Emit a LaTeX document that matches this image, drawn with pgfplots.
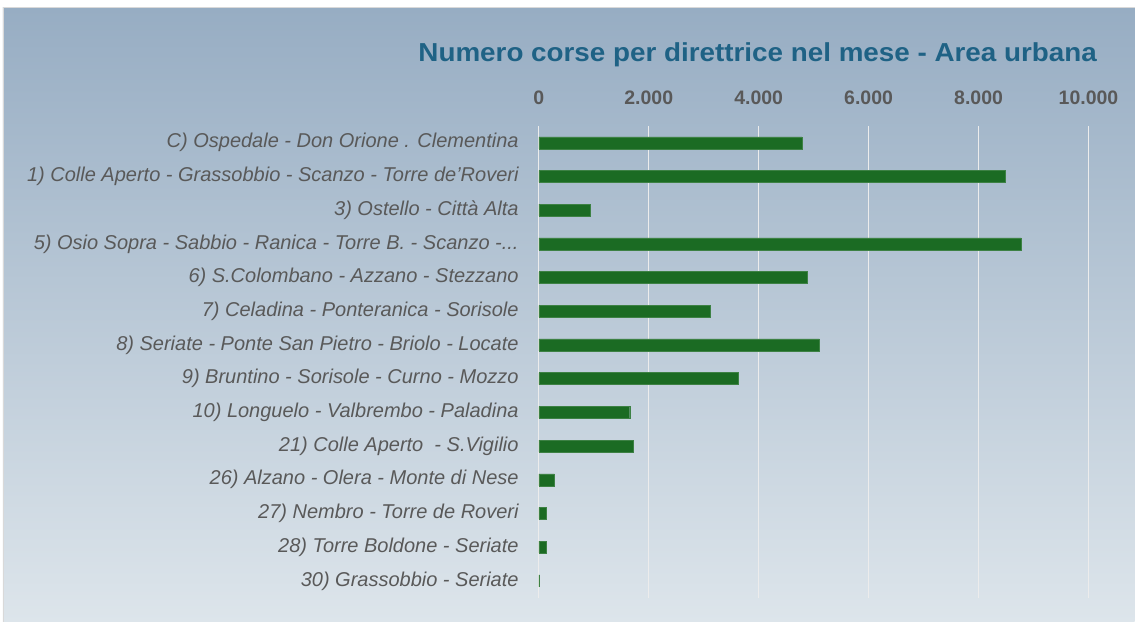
\documentclass[border=0pt]{standalone}
\usepackage{pgfplots}
\pgfplotsset{compat=1.18}
\usepackage{fontspec}
\setmainfont{Liberation Sans}
\newfontfamily\widefont[FakeStretch=1.07]{Liberation Sans}
\newcommand\tdots{...}
\definecolor{bgtop}{HTML}{97ADC3}
\definecolor{bgbot}{HTML}{DDE5EB}
\definecolor{titlecol}{HTML}{1F6285}
\definecolor{labelcol}{HTML}{595959}
\definecolor{barcol}{HTML}{1B6B23}
\begin{document}
\begin{tikzpicture}
\fill[white] (0pt,0pt) rectangle (1135pt,622pt);
\shade[top color=bgtop, bottom color=bgbot] (3pt,0pt) rectangle (1135pt,614pt);
\draw[black!15, line width=1pt] (3.5pt,0pt) -- (3.5pt,614.5pt) -- (1135pt,614.5pt);
\node[anchor=center, text=titlecol, font=\widefont\bfseries\fontsize{26}{26}\selectfont] at (758pt,567pt) {Numero corse per direttrice nel mese - Area urbana};
\begin{axis}[
  at={(539pt,24pt)}, anchor=south west,
  width=550pt, height=472pt, scale only axis,
  xmin=0, xmax=10000, ymin=-0.5, ymax=13.5,
  y dir=reverse,
  axis line style={draw=none},
  major tick length=0pt,
  xtick={0,2000,4000,6000,8000,10000},
  scaled x ticks=false,
  xticklabel pos=upper,
  xmajorgrids,
  grid style={white!85!gray, line width=1.2pt},
  /pgf/number format/.cd, 1000 sep={.}, assume math mode=true,
  /pgfplots/.cd,
  xticklabel style={anchor=center, yshift=28pt, text=labelcol, font=\bfseries\fontsize{19.5}{19.5}\selectfont},
  ytick={0,1,2,3,4,5,6,7,8,9,10,11,12,13},
  yticklabels={
    {C) Ospedale - Don Orione . Clementina},
    {1) Colle Aperto - Grassobbio - Scanzo - Torre de'Roveri},
    {3) Ostello - Città Alta},
    {5) Osio Sopra - Sabbio - Ranica - Torre B. - Scanzo -\tdots},
    {6) S.Colombano - Azzano - Stezzano},
    {7) Celadina - Ponteranica - Sorisole},
    {8) Seriate - Ponte San Pietro - Briolo - Locate},
    {9) Bruntino - Sorisole - Curno - Mozzo},
    {10) Longuelo - Valbrembo - Paladina},
    {21) Colle Aperto\ \ - S.Vigilio},
    {26) Alzano - Olera - Monte di Nese},
    {27) Nembro - Torre de Roveri},
    {28) Torre Boldone - Seriate},
    {30) Grassobbio - Seriate}},
  yticklabel style={anchor=east, inner sep=0pt, xshift=-20pt, text=labelcol, font=\itshape\fontsize{20}{20}\selectfont},
  clip=false
]
\addplot[xbar, bar width=12pt, fill=barcol, draw=barcol!85!white] coordinates {
  (4787,0) (8478,1) (940,2) (8776,3) (4879,4) (3115,5) (5103,6)
  (3624,7) (1655,8) (1715,9) (285,10) (133,11) (136,12) (0,13)
};
\end{axis}
\end{tikzpicture}
\end{document}
